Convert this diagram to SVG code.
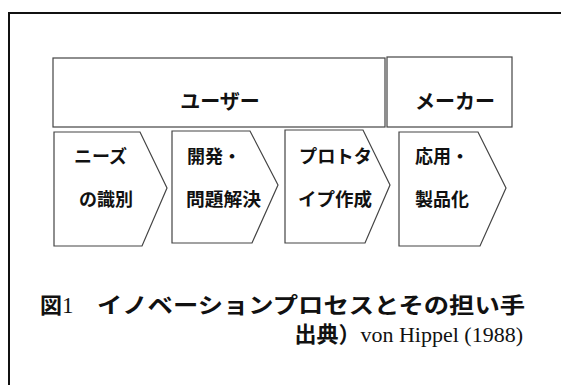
<svg xmlns="http://www.w3.org/2000/svg" width="561" height="385" viewBox="0 0 561 385">
<style>
.frame{fill:none;stroke:#111;stroke-width:2}
.box{fill:#fff;stroke:#444;stroke-width:1.2}
.g{font-family:"Noto Sans CJK JP","Noto Sans",sans-serif;font-weight:bold;fill:#111}
.s{font-family:"Liberation Serif",serif;fill:#111}
.lbl{font-size:18px}
.hd{font-size:20px}
</style>
<rect width="561" height="385" fill="#fff"/>
<path class="frame" d="M9,385 V13 H561"/>
<g id="user">
<rect class="box" x="53" y="58" width="332" height="69"/>
<text class="g hd" x="220" y="109" text-anchor="middle">ユーザー</text>
</g>
<g id="maker">
<rect class="box" x="387" y="57" width="125" height="70"/>
<text class="g hd" x="455" y="109" text-anchor="middle">メーカー</text>
</g>
<g id="connectors"></g>
<g id="step1">
<polygon class="box" points="54,132 140,132 167,188 142,246 54,246"/>
<text class="g lbl" x="74" y="163">ニーズ</text>
<text class="g lbl" x="79" y="206">の識別</text>
</g>
<g id="step2">
<polygon class="box" points="172,131 250,131 278,185 252,243 172,243"/>
<text class="g lbl" x="187" y="163">開発・</text>
<text class="g lbl" x="186" y="206" textLength="75" lengthAdjust="spacingAndGlyphs">問題解決</text>
</g>
<g id="step3">
<polygon class="box" points="285,130 363,130 390,185 365,243 285,243"/>
<text class="g lbl" x="299" y="163" textLength="73" lengthAdjust="spacingAndGlyphs">プロトタ</text>
<text class="g lbl" x="298" y="206" textLength="74" lengthAdjust="spacingAndGlyphs">イプ作成</text>
</g>
<g id="step4">
<polygon class="box" points="399,132 478,132 506,188 480,246 399,246"/>
<text class="g lbl" x="415" y="163">応用・</text>
<text class="g lbl" x="415" y="206">製品化</text>
</g>
<g id="caption">
<text x="40" y="313" font-size="22"><tspan class="g">図</tspan><tspan class="s" font-size="23">1</tspan><tspan class="g" x="97" textLength="428" lengthAdjust="spacingAndGlyphs">イノベーションプロセスとその担い手</tspan></text>
<text x="523" y="342" text-anchor="end" font-size="22"><tspan class="g">出典）</tspan><tspan class="s">von Hippel (1988)</tspan></text>
</g>
</svg>
